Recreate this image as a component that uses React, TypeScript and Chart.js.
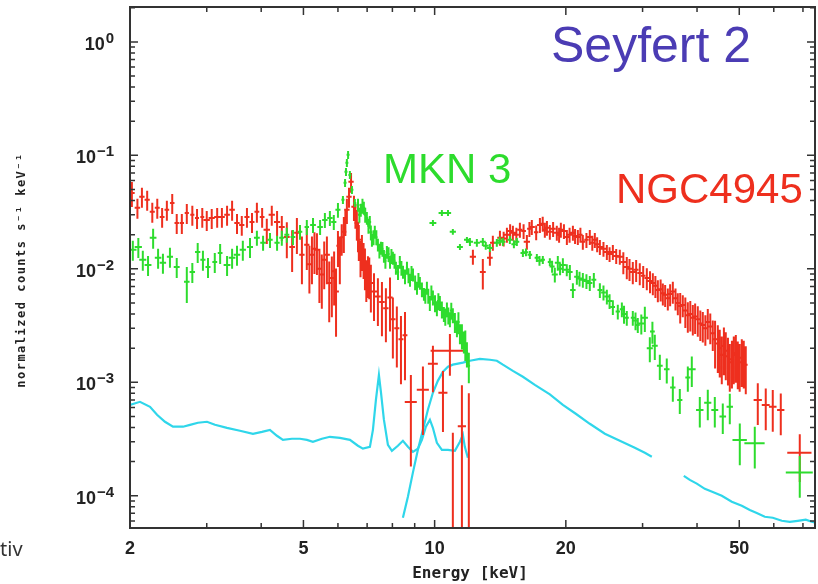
import React, { useEffect, useRef } from "react";
import { Chart, registerables } from "chart.js";

Chart.register(...registerables);

// Axis ranges: energy in keV, flux in counts s^-1 keV^-1
const X_MIN = 2.0;
const X_MAX = 74.6;
const Y_MIN = 5.2e-5;
const Y_MAX = 2.03;

const xLabelTicks = [2, 5, 10, 20, 50];
const xMinorTicks = [3, 4, 6, 7, 8, 9, 30, 40, 60, 70];
const yLabelExponents = [-4, -3, -2, -1, 0];

// ---------- NGC4945 (red) ----------
const ngcSoftE = [
  2.02, 2.08, 2.13, 2.19, 2.25, 2.31, 2.37, 2.43, 2.5, 2.56,
  2.63, 2.7, 2.78, 2.85, 2.93, 3.0, 3.08, 3.17, 3.25, 3.34,
  3.43, 3.52, 3.61, 3.71, 3.81, 3.91, 4.02, 4.12, 4.23, 4.35,
  4.46, 4.58, 4.71, 4.83, 4.96, 5.09, 5.23, 5.37, 5.51, 5.66,
  5.81, 5.94, 6.06, 6.19, 6.29, 6.36, 6.43, 6.53, 6.63, 6.7,
  6.81, 6.92, 7.03, 7.14, 7.26, 7.41, 7.57, 7.73, 7.9, 8.02,
  8.19, 8.37, 8.55,
];
const ngcSoftF = [
  0.0467, 0.0345, 0.0431, 0.0406, 0.0318, 0.0345, 0.0287, 0.0331, 0.0381, 0.0254,
  0.0254, 0.0311, 0.0299, 0.0281, 0.0287, 0.027, 0.0281, 0.0287, 0.0287, 0.0299,
  0.0331, 0.0254, 0.0244, 0.0287, 0.0259, 0.0318, 0.0287, 0.0221, 0.0299, 0.0259,
  0.0234, 0.0191, 0.0156, 0.0208, 0.0133, 0.0163, 0.0133, 0.0147, 0.0089, 0.0133,
  0.0083, 0.0063, 0.0133, 0.0212, 0.0331, 0.0431, 0.0584, 0.0352, 0.0254, 0.018,
  0.0147, 0.0108, 0.0092, 0.0075, 0.0063, 0.0057, 0.0051, 0.0045, 0.0056, 0.0036,
  0.003, 0.0024, 0.0026,
];
const ngcSoftErr = [
  0.25, 0.2, 0.2, 0.2, 0.2, 0.2, 0.2, 0.2, 0.2, 0.2,
  0.2, 0.2, 0.2, 0.2, 0.2, 0.2, 0.2, 0.2, 0.2, 0.2,
  0.2, 0.2, 0.2, 0.2, 0.2, 0.2, 0.2, 0.25, 0.2, 0.25,
  0.25, 0.35, 0.4, 0.35, 0.45, 0.4, 0.45, 0.4, 0.5, 0.45,
  0.55, 0.6, 0.45, 0.35, 0.25, 0.2, 0.2, 0.25, 0.3, 0.35,
  0.35, 0.4, 0.4, 0.45, 0.45, 0.45, 0.5, 0.5, 0.5, 0.55,
  0.55, 0.6, 0.6,
];
const ngcSoftHalfW = [
  0.03, 0.03, 0.03, 0.03, 0.03, 0.03, 0.03, 0.03, 0.03, 0.03,
  0.03, 0.03, 0.03, 0.03, 0.03, 0.05, 0.05, 0.05, 0.05, 0.05,
  0.05, 0.05, 0.05, 0.05, 0.05, 0.05, 0.05, 0.07, 0.07, 0.07,
  0.07, 0.07, 0.07, 0.07, 0.07, 0.07, 0.07, 0.07, 0.07, 0.09,
  0.09, 0.09, 0.09, 0.09, 0.09, 0.09, 0.09, 0.09, 0.09, 0.09,
  0.11, 0.11, 0.11, 0.11, 0.11, 0.11, 0.11, 0.11, 0.11, 0.11,
  0.11, 0.11, 0.11,
];

// NGC4945, additional finer bins round the iron line
const ngcLineE = [5.16, 5.3, 5.44, 5.58, 5.73, 5.88, 6.0, 6.12, 6.24, 6.58, 6.67, 6.76, 6.87, 6.97, 7.08];
const ngcLineF = [0.011, 0.015, 0.01, 0.012, 0.0075, 0.0095, 0.016, 0.019, 0.026, 0.03, 0.02, 0.013, 0.0125, 0.0085, 0.009];
const ngcLineErr = [0.45, 0.4, 0.5, 0.45, 0.55, 0.5, 0.35, 0.3, 0.25, 0.25, 0.3, 0.35, 0.35, 0.4, 0.4];
const ngcLineHalfW = [0.07, 0.07, 0.07, 0.07, 0.07, 0.07, 0.05, 0.05, 0.05, 0.05, 0.05, 0.06, 0.06, 0.06, 0.06];

const ngcIronE = [8.82, 9.4, 9.91, 10.45, 10.84, 11.01, 11.55, 11.98];
const ngcIronF = [6.7e-4, 8.6e-4, 1.46e-3, 8.1e-4, 1.9e-3, 5.0e-5, 4.1e-4, 4.0e-5];
const ngcIronErr = [0.73, 0.6, 0.44, 0.55, 0.4, 6.2, 1.3, 19];
const ngcIronHalfW = [0.28, 0.3, 0.26, 0.25, 1.05, 0.2, 0.25, 0.2];

const ngcHardE = [
  12.24, 12.9, 13.39, 13.6, 14.12, 14.65, 15.12, 15.69, 16.28, 16.71,
  17.44, 17.9, 18.38, 19.07, 19.48, 20.11, 20.76, 21.31, 21.88, 22.7,
  23.31, 23.94, 24.84, 25.64, 26.6, 27.6, 28.49, 29.56, 30.68, 31.67,
  32.52, 33.39, 34.28, 35.2, 36.14, 37.1, 38.1, 39.12, 40.16, 41.24,
  42.34, 43.47, 44.64, 45.59, 46.56, 47.56, 48.57, 49.61, 50.67, 51.75,
  55.14, 57.51, 59.68, 62.26, 68.83,
];
const ngcHardF = [
  0.0128, 0.0094, 0.0125, 0.017, 0.0188, 0.02, 0.0208, 0.0221, 0.0173, 0.0234,
  0.0244, 0.0221, 0.0212, 0.0208, 0.0221, 0.0191, 0.0208, 0.0191, 0.0173, 0.0191,
  0.018, 0.0156, 0.0141, 0.0141, 0.0128, 0.0104, 0.0094, 0.0092, 0.0083, 0.0075,
  0.0065, 0.0061, 0.0055, 0.0063, 0.005, 0.0048, 0.0039, 0.0037, 0.0036, 0.0032,
  0.0034, 0.0027, 0.0022, 0.00175, 0.0019, 0.0015, 0.00175, 0.00158, 0.00165, 0.00143,
  0.0007, 0.00063, 0.00061, 0.00057, 0.00024,
];
const ngcHardErr = [
  0.15, 0.3, 0.15, 0.15, 0.15, 0.15, 0.15, 0.15, 0.15, 0.15,
  0.15, 0.15, 0.15, 0.15, 0.15, 0.15, 0.15, 0.15, 0.15, 0.15,
  0.15, 0.15, 0.15, 0.15, 0.15, 0.22, 0.22, 0.22, 0.22, 0.22,
  0.22, 0.22, 0.22, 0.22, 0.22, 0.22, 0.3, 0.3, 0.3, 0.3,
  0.3, 0.3, 0.45, 0.45, 0.45, 0.45, 0.45, 0.45, 0.45, 0.45,
  0.4, 0.4, 0.4, 0.4, 0.45,
];
const ngcHardHalfW = [
  0.2, 0.2, 0.2, 0.2, 0.2, 0.2, 0.2, 0.2, 0.27, 0.27,
  0.27, 0.27, 0.27, 0.27, 0.27, 0.27, 0.27, 0.27, 0.27, 0.37,
  0.37, 0.37, 0.37, 0.37, 0.37, 0.37, 0.37, 0.37, 0.37, 0.45,
  0.45, 0.45, 0.45, 0.45, 0.45, 0.45, 0.45, 0.45, 0.45, 0.45,
  0.45, 0.45, 0.5, 0.5, 0.5, 0.5, 0.5, 0.5, 0.5, 0.5,
  1.2, 1.2, 1.2, 1.2, 4.4,
];

// NGC4945, interleaved hard-band bins
const ngcHard2E = [
  14.4, 14.9, 15.4, 16.0, 16.5, 17.1, 17.7, 18.1, 18.7, 19.3,
  19.8, 20.4, 21.0, 21.6, 22.3, 23.0, 23.6, 24.4, 25.2, 26.1,
  27.1, 28.0, 29.0, 30.1, 31.2, 32.1, 33.0, 33.8, 34.7, 35.7,
  36.6, 37.6, 38.6, 39.6, 40.7, 41.8, 42.9, 44.0, 45.1, 46.1,
  47.1, 48.1, 49.1, 50.1, 51.2,
];
const ngcHard2F = [
  0.0185, 0.0215, 0.02, 0.0215, 0.0225, 0.021, 0.025, 0.023, 0.0225, 0.02,
  0.0215, 0.02, 0.0195, 0.02, 0.018, 0.017, 0.0165, 0.015, 0.0135, 0.013,
  0.0115, 0.01, 0.0098, 0.0087, 0.0078, 0.0071, 0.0066, 0.0059, 0.006, 0.0055,
  0.0047, 0.0043, 0.004, 0.0038, 0.0033, 0.003, 0.0031, 0.0024, 0.002, 0.0021,
  0.0017, 0.0016, 0.0018, 0.0015, 0.0016,
];
const ngcHard2Err = [
  0.15, 0.15, 0.15, 0.15, 0.15, 0.15, 0.15, 0.15, 0.15, 0.15,
  0.15, 0.15, 0.15, 0.15, 0.15, 0.15, 0.15, 0.15, 0.15, 0.15,
  0.22, 0.22, 0.22, 0.22, 0.22, 0.22, 0.22, 0.22, 0.22, 0.22,
  0.3, 0.3, 0.3, 0.3, 0.3, 0.3, 0.3, 0.45, 0.45, 0.45,
  0.45, 0.45, 0.45, 0.45, 0.45,
];
const ngcHard2HalfW = [
  0.2, 0.2, 0.2, 0.2, 0.2, 0.2, 0.25, 0.25, 0.25, 0.25,
  0.25, 0.25, 0.25, 0.25, 0.25, 0.35, 0.35, 0.35, 0.35, 0.35,
  0.35, 0.35, 0.35, 0.35, 0.4, 0.4, 0.4, 0.4, 0.4, 0.4,
  0.4, 0.4, 0.4, 0.4, 0.4, 0.4, 0.4, 0.45, 0.45, 0.45,
  0.45, 0.45, 0.45, 0.45, 0.45,
];

// ---------- MKN 3 (green) ----------
const mknSoftE = [
  2.03, 2.09, 2.14, 2.2, 2.26, 2.32, 2.38, 2.47, 2.56, 2.7,
  2.78, 2.86, 2.94, 3.02, 3.13, 3.22, 3.34, 3.43, 3.52, 3.63,
  3.77, 3.91, 4.04, 4.19, 4.35, 4.46, 4.58, 4.73, 4.91, 5.09,
  5.26, 5.46, 5.6, 5.75, 5.87, 6.0, 6.16, 6.23, 6.26, 6.29,
  6.33, 6.39, 6.46, 6.56,
];
const mknSoftF = [
  0.0147, 0.0156, 0.012, 0.0108, 0.0188, 0.0125, 0.0113, 0.0128, 0.0104, 0.0077,
  0.0094, 0.0141, 0.012, 0.0104, 0.0115, 0.0138, 0.0108, 0.0125, 0.0133, 0.0147,
  0.0156, 0.0188, 0.017, 0.018, 0.017, 0.0188, 0.02, 0.0191, 0.0212, 0.0234,
  0.0244, 0.0234, 0.027, 0.0281, 0.0259, 0.0331, 0.0406, 0.0573, 0.0716, 0.0859,
  0.101, 0.0673, 0.0497, 0.0381,
];
const mknSoftErr = [
  0.2, 0.2, 0.2, 0.2, 0.2, 0.2, 0.2, 0.2, 0.2, 0.35,
  0.2, 0.2, 0.2, 0.2, 0.2, 0.2, 0.2, 0.2, 0.2, 0.2,
  0.2, 0.15, 0.15, 0.15, 0.15, 0.15, 0.15, 0.15, 0.15, 0.15,
  0.15, 0.15, 0.15, 0.15, 0.15, 0.15, 0.08, 0.08, 0.08, 0.08,
  0.08, 0.08, 0.08, 0.08,
];
const mknSoftHalfW = [
  0.04, 0.04, 0.04, 0.04, 0.04, 0.04, 0.04, 0.04, 0.04, 0.04,
  0.04, 0.04, 0.04, 0.04, 0.04, 0.04, 0.06, 0.06, 0.06, 0.06,
  0.06, 0.06, 0.06, 0.06, 0.06, 0.06, 0.06, 0.06, 0.06, 0.06,
  0.08, 0.08, 0.08, 0.08, 0.08, 0.08, 0.05, 0.05, 0.05, 0.05,
  0.05, 0.05, 0.05, 0.05,
];

const mknIronE = [
  6.67, 6.77, 6.88, 6.99, 7.1, 7.18, 7.29, 7.41, 7.53, 7.65,
  7.77, 7.9, 8.02, 8.15, 8.32, 8.46, 8.64, 8.78, 8.92, 9.11,
  9.25, 9.45, 9.6, 9.75, 9.91, 10.12, 10.28, 10.5, 10.67, 10.84,
  11.01, 11.25, 11.43, 11.67, 11.86, 11.98,
];
const mknIronF = [
  0.0366, 0.0331, 0.0345, 0.0281, 0.0259, 0.018, 0.0212, 0.0163, 0.0153, 0.013,
  0.0141, 0.0115, 0.0125, 0.0102, 0.0115, 0.0094, 0.0102, 0.008, 0.0089, 0.0068,
  0.0075, 0.006, 0.0068, 0.005, 0.0056, 0.0045, 0.005, 0.004, 0.0044, 0.0036,
  0.0039, 0.003, 0.0027, 0.0023, 0.0018, 0.0014,
];
const mknIronErr = [
  0.13, 0.13, 0.13, 0.13, 0.13, 0.13, 0.13, 0.13, 0.13, 0.13,
  0.13, 0.13, 0.13, 0.13, 0.13, 0.13, 0.13, 0.13, 0.13, 0.13,
  0.13, 0.13, 0.13, 0.15, 0.15, 0.15, 0.15, 0.15, 0.15, 0.15,
  0.15, 0.17, 0.2, 0.22, 0.25, 0.3,
];
const mknIronHalfW = [
  0.05, 0.05, 0.05, 0.05, 0.05, 0.05, 0.05, 0.05, 0.05, 0.05,
  0.05, 0.05, 0.05, 0.05, 0.05, 0.05, 0.05, 0.05, 0.05, 0.05,
  0.05, 0.05, 0.05, 0.05, 0.08, 0.08, 0.08, 0.08, 0.08, 0.08,
  0.08, 0.08, 0.08, 0.08, 0.08, 0.08,
];

// MKN 3, interleaved bins across 6.7-12 keV
const mknIron2E = [
  6.72, 6.83, 6.93, 7.05, 7.14, 7.24, 7.35, 7.47, 7.59, 7.71,
  7.84, 7.96, 8.09, 8.24, 8.39, 8.55, 8.71, 8.85, 9.02, 9.18,
  9.35, 9.52, 9.67, 9.83, 10.02, 10.2, 10.39, 10.58, 10.75, 10.92,
  11.13, 11.34, 11.55, 11.76,
];
const mknIron2F = [
  0.03, 0.036, 0.03, 0.024, 0.021, 0.019, 0.019, 0.0145, 0.015, 0.0118,
  0.0135, 0.013, 0.0118, 0.0094, 0.0102, 0.0086, 0.0088, 0.0092, 0.0076, 0.008,
  0.0066, 0.0058, 0.0058, 0.0062, 0.005, 0.0052, 0.0044, 0.0038, 0.0039, 0.0043,
  0.0034, 0.0034, 0.0026, 0.0022,
];
const mknIron2Err = [
  0.15, 0.15, 0.15, 0.15, 0.15, 0.15, 0.15, 0.15, 0.15, 0.15,
  0.15, 0.15, 0.15, 0.15, 0.15, 0.15, 0.15, 0.15, 0.15, 0.15,
  0.15, 0.15, 0.15, 0.15, 0.17, 0.17, 0.17, 0.17, 0.17, 0.17,
  0.2, 0.22, 0.25, 0.3,
];
const mknIron2HalfW = [
  0.05, 0.05, 0.05, 0.05, 0.05, 0.05, 0.05, 0.05, 0.05, 0.05,
  0.05, 0.05, 0.05, 0.05, 0.05, 0.05, 0.05, 0.05, 0.05, 0.05,
  0.05, 0.05, 0.05, 0.05, 0.08, 0.08, 0.08, 0.08, 0.08, 0.08,
  0.08, 0.08, 0.08, 0.08,
];

const mknHumpE = [9.91, 10.39, 10.73, 11.01, 11.43, 11.86];
const mknHumpF = [0.0254, 0.0311, 0.0311, 0.0212, 0.0156, 0.018];
const mknHumpErr = [0.06, 0.06, 0.06, 0.06, 0.06, 0.06];
const mknHumpHalfW = [0.18, 0.18, 0.18, 0.18, 0.18, 0.18];

const mknHardE = [
  12.05, 12.5, 12.9, 13.39, 13.89, 14.34, 14.88, 15.44, 15.94, 16.54,
  17.16, 17.71, 18.38, 18.87, 19.17, 19.69, 20.43, 20.76, 21.2, 21.88,
  22.7, 23.19, 23.94, 24.84, 25.64, 26.32, 26.89, 27.6, 28.49, 29.25,
  30.36, 31.17, 32.0, 32.86, 34.09, 35.2, 36.52, 38.1, 38.91, 40.59,
  42.34, 43.94, 45.83, 47.56, 50.14, 54.27, 68.83,
];
const mknHardF = [
  0.0173, 0.017, 0.0173, 0.0153, 0.017, 0.0173, 0.018, 0.0173, 0.0138, 0.0133,
  0.0125, 0.012, 0.0115, 0.0089, 0.0113, 0.0108, 0.0094, 0.0065, 0.0085, 0.008,
  0.0075, 0.008, 0.0065, 0.0057, 0.0046, 0.0042, 0.0044, 0.0037, 0.0037, 0.0032,
  0.0037, 0.002, 0.0021, 0.0014, 0.0013, 0.0009, 0.0007, 0.0011, 0.0013, 0.00057,
  0.00066, 0.00057, 0.0005, 0.00061, 0.00031, 0.00029, 0.00016,
];
const mknHardErr = [
  0.08, 0.08, 0.08, 0.08, 0.08, 0.08, 0.08, 0.08, 0.08, 0.08,
  0.08, 0.08, 0.08, 0.15, 0.15, 0.15, 0.15, 0.15, 0.15, 0.15,
  0.15, 0.15, 0.15, 0.15, 0.15, 0.15, 0.15, 0.15, 0.15, 0.15,
  0.25, 0.25, 0.25, 0.25, 0.25, 0.25, 0.25, 0.25, 0.3, 0.3,
  0.3, 0.3, 0.3, 0.3, 0.4, 0.4, 0.4,
];
const mknHardHalfW = [
  0.2, 0.2, 0.2, 0.2, 0.2, 0.2, 0.2, 0.2, 0.2, 0.2,
  0.2, 0.2, 0.2, 0.3, 0.3, 0.3, 0.3, 0.3, 0.3, 0.3,
  0.3, 0.3, 0.3, 0.3, 0.3, 0.3, 0.3, 0.3, 0.3, 0.3,
  0.5, 0.5, 0.5, 0.5, 0.5, 0.5, 0.5, 0.5, 0.8, 0.8,
  0.8, 0.8, 0.8, 0.8, 1.9, 2.9, 4.9,
];

// MKN 3, interleaved hard-band bins
const mknHard2E = [13.1, 14.1, 15.2, 16.2, 17.4, 18.6, 19.4, 20.1, 21.5, 22.3, 24.4, 25.2, 27.2, 28.9, 29.8, 31.6];
const mknHard2F = [0.016, 0.0178, 0.0165, 0.014, 0.0118, 0.0105, 0.01, 0.0098, 0.0082, 0.0078, 0.0062, 0.0052, 0.004, 0.0035, 0.0033, 0.0028];
const mknHard2Err = [0.08, 0.08, 0.08, 0.08, 0.1, 0.12, 0.12, 0.12, 0.15, 0.15, 0.15, 0.15, 0.18, 0.18, 0.2, 0.22];
const mknHard2HalfW = [0.2, 0.2, 0.2, 0.2, 0.25, 0.25, 0.25, 0.3, 0.3, 0.3, 0.3, 0.35, 0.35, 0.35, 0.4, 0.4];

// ---------- Background model (cyan) ----------
const bgSoftE = [
  2.0, 2.108, 2.223, 2.307, 2.406, 2.51, 2.646, 2.746, 2.864, 3.004,
  3.133, 3.338, 3.575, 3.83, 4.016, 4.189, 4.347, 4.487, 4.705, 4.909,
  5.093, 5.257, 5.513, 5.751, 6.063, 6.392, 6.668, 6.846, 7.104, 7.218,
  7.333, 7.45, 7.529, 7.649, 7.813, 7.979, 8.236, 8.457, 8.683, 8.915,
  9.154, 9.35, 9.549, 9.753, 9.908, 10.12, 10.39, 10.73, 11.13, 11.43,
  11.61, 11.73, 11.92,
];
const bgSoftF = [
  6.33e-4, 6.73e-4, 6.08e-4, 5.18e-4, 4.49e-4, 4.06e-4, 4.06e-4, 4.22e-4, 4.4e-4, 4.49e-4,
  4.22e-4, 3.97e-4, 3.74e-4, 3.52e-4, 3.66e-4, 3.81e-4, 3.38e-4, 3.11e-4, 3.18e-4, 3.18e-4,
  3.11e-4, 2.99e-4, 3.18e-4, 3.31e-4, 3.24e-4, 3.11e-4, 2.76e-4, 2.6e-4, 2.7e-4, 3.81e-4,
  7.01e-4, 1.16e-3, 8.24e-4, 4.68e-4, 2.81e-4, 2.49e-4, 2.76e-4, 3.05e-4, 2.7e-4, 2.44e-4,
  2.6e-4, 3.11e-4, 4.06e-4, 4.68e-4, 3.97e-4, 2.93e-4, 2.54e-4, 2.54e-4, 2.49e-4, 2.99e-4,
  3.45e-4, 2.7e-4, 2.16e-4,
];
const bgHardE = [
  8.457, 8.683, 8.915, 9.154, 9.399, 9.651, 9.908, 10.17, 10.45, 10.73,
  11.01, 11.31, 11.61, 12.05, 12.7, 13.39, 13.89, 14.34, 15.12, 15.94,
  16.98, 18.38, 19.69, 21.08, 22.7, 24.58, 26.6, 28.79, 30.36, 31.5,
];
const bgHardF = [
  6.4e-5, 9.8e-5, 1.6e-4, 2.54e-4, 3.81e-4, 5.73e-4, 8.08e-4, 1.03e-3, 1.24e-3, 1.37e-3,
  1.43e-3, 1.46e-3, 1.49e-3, 1.55e-3, 1.61e-3, 1.58e-3, 1.55e-3, 1.43e-3, 1.26e-3, 1.12e-3,
  9.5e-4, 7.82e-4, 6.33e-4, 5.28e-4, 4.31e-4, 3.52e-4, 3.05e-4, 2.65e-4, 2.39e-4, 2.21e-4,
];
const bgTailE = [
  37.3, 38.5, 39.95, 41.68, 43.47, 45.59, 48.06, 50.67, 52.86, 54.84,
  57.21, 59.68, 62.59, 65.29, 68.1, 71.04, 73.33, 74.9,
];
const bgTailF = [
  1.5e-4, 1.38e-4, 1.28e-4, 1.15e-4, 1.08e-4, 1.0e-4, 8.86e-5, 8.16e-5, 7.5e-5, 7.06e-5,
  6.53e-5, 6.4e-5, 6.02e-5, 5.9e-5, 6.02e-5, 6.15e-5, 5.9e-5, 5.77e-5,
];

const RED = "#ee2f1e";
const GREEN = "#2ddc2d";
const CYAN = "#2fd6ea";
const AXIS = "#333333";
const SANS = "'Liberation Sans', Arial, Helvetica, sans-serif";

type ErrPoint = { x: number; y: number; xMin: number; xMax: number; yMin: number; yMax: number };

function withErrors(E: number[], F: number[], rel: number[], halfW: number[]): ErrPoint[] {
  return E.map((e, i) => ({
    x: e,
    y: F[i],
    xMin: e - halfW[i],
    xMax: e + halfW[i],
    yMin: F[i] * (1 - rel[i]),
    yMax: F[i] * (1 + rel[i]),
  }));
}

function curve(E: number[], F: number[]) {
  return E.map((e, i) => ({ x: e, y: F[i] }));
}

// Draws a "+" per bin: energy range horizontally, 1-sigma range vertically
const errorBarPlugin = {
  id: "errorBars",
  afterDatasetsDraw(chart: any) {
    const { ctx, chartArea: a, scales } = chart;
    const xs = scales.x;
    const ys = scales.y;
    ctx.save();
    ctx.beginPath();
    ctx.rect(a.left, a.top, a.right - a.left, a.bottom - a.top);
    ctx.clip();
    chart.data.datasets.forEach((ds: any) => {
      if (!ds.errorBars) return;
      ctx.strokeStyle = ds.borderColor;
      ctx.lineWidth = 2;
      ctx.beginPath();
      ds.data.forEach((p: ErrPoint) => {
        const px = xs.getPixelForValue(p.x);
        const py = ys.getPixelForValue(p.y);
        const top = ys.getPixelForValue(p.yMax);
        const bot = p.yMin > 0 ? ys.getPixelForValue(p.yMin) : a.bottom + 5;
        ctx.moveTo(px, top);
        ctx.lineTo(px, bot);
        ctx.moveTo(xs.getPixelForValue(p.xMin), py);
        ctx.lineTo(xs.getPixelForValue(p.xMax), py);
      });
      ctx.stroke();
    });
    ctx.restore();
  },
};

// Frame with inward ticks on all four sides, tick labels, titles and source names
const framePlugin = {
  id: "frameAndText",
  afterDraw(chart: any) {
    const { ctx, chartArea: a, scales } = chart;
    const xs = scales.x;
    const ys = scales.y;
    ctx.save();

    ctx.strokeStyle = AXIS;
    ctx.lineWidth = 1.5;
    ctx.beginPath();
    const tickX = (v: number, len: number) => {
      const px = xs.getPixelForValue(v);
      ctx.moveTo(px, a.bottom);
      ctx.lineTo(px, a.bottom - len);
      ctx.moveTo(px, a.top);
      ctx.lineTo(px, a.top + len);
    };
    xLabelTicks.forEach((v) => tickX(v, 8));
    xMinorTicks.forEach((v) => tickX(v, 5));
    for (let d = -5; d <= 0; d++) {
      for (let m = 1; m < 10; m++) {
        const v = m * Math.pow(10, d);
        if (v < Y_MIN || v > Y_MAX) continue;
        const py = ys.getPixelForValue(v);
        const len = m === 1 ? 8 : 5;
        ctx.moveTo(a.left, py);
        ctx.lineTo(a.left + len, py);
        ctx.moveTo(a.right, py);
        ctx.lineTo(a.right - len, py);
      }
    }
    ctx.stroke();

    ctx.lineWidth = 2;
    ctx.strokeRect(a.left, a.top, a.right - a.left, a.bottom - a.top);

    // y tick labels: 10 with a raised exponent
    ctx.fillStyle = "#222";
    ctx.textBaseline = "alphabetic";
    yLabelExponents.forEach((d) => {
      const py = ys.getPixelForValue(Math.pow(10, d));
      const exp = d === 0 ? "0" : "\u2212" + String(-d);
      const right = 114;
      ctx.font = `bold 15px ${SANS}`;
      const ew = ctx.measureText(exp).width;
      ctx.textAlign = "left";
      ctx.fillText(exp, right - ew, py + 1);
      ctx.font = `bold 18px ${SANS}`;
      ctx.textAlign = "right";
      ctx.fillText("10", right - ew - 1, py + 8);
    });

    // x tick labels
    ctx.font = `bold 18px ${SANS}`;
    ctx.textAlign = "center";
    xLabelTicks.forEach((v) => {
      ctx.fillText(String(v), xs.getPixelForValue(v), 554);
    });

    // axis titles
    ctx.font = "bold 16px 'DejaVu Sans Mono', monospace";
    ctx.fillText("Energy [keV]", 470, 578);

    ctx.save();
    ctx.translate(25, 270);
    ctx.rotate(-Math.PI / 2);
    ctx.font = "bold 12px 'DejaVu Sans Mono', monospace";
    (ctx as any).letterSpacing = "1.5px";
    ctx.textAlign = "center";
    ctx.fillText("normalized counts s\u207B\u00B9 keV\u207B\u00B9", 0, 0);
    ctx.restore();

    ctx.textAlign = "left";
    ctx.fillStyle = "#333";
    ctx.font = "20px 'Noto Sans', sans-serif";
    ctx.fillText("tiv", 0, 556);

    // source names
    ctx.font = `50px ${SANS}`;
    ctx.fillStyle = "#4b3cb4";
    ctx.fillText("Seyfert 2", 551, 62);
    ctx.font = `42px ${SANS}`;
    ctx.fillStyle = GREEN;
    ctx.fillText("MKN 3", 383, 183);
    ctx.fillStyle = RED;
    ctx.fillText("NGC4945", 616, 203);

    ctx.restore();
  },
};

export default function App() {
  const canvasRef = useRef<HTMLCanvasElement | null>(null);

  useEffect(() => {
    if (!canvasRef.current) return;
    const ngcData = [
      ...withErrors(ngcSoftE, ngcSoftF, ngcSoftErr, ngcSoftHalfW),
      ...withErrors(ngcLineE, ngcLineF, ngcLineErr, ngcLineHalfW),
      ...withErrors(ngcIronE, ngcIronF, ngcIronErr, ngcIronHalfW),
      ...withErrors(ngcHardE, ngcHardF, ngcHardErr, ngcHardHalfW),
      ...withErrors(ngcHard2E, ngcHard2F, ngcHard2Err, ngcHard2HalfW),
    ];
    const mknData = [
      ...withErrors(mknSoftE, mknSoftF, mknSoftErr, mknSoftHalfW),
      ...withErrors(mknIronE, mknIronF, mknIronErr, mknIronHalfW),
      ...withErrors(mknIron2E, mknIron2F, mknIron2Err, mknIron2HalfW),
      ...withErrors(mknHumpE, mknHumpF, mknHumpErr, mknHumpHalfW),
      ...withErrors(mknHardE, mknHardF, mknHardErr, mknHardHalfW),
      ...withErrors(mknHard2E, mknHard2F, mknHard2Err, mknHard2HalfW),
    ];
    const lineStyle = {
      showLine: true,
      pointRadius: 0,
      borderColor: CYAN,
      borderWidth: 2.2,
      tension: 0,
      fill: false,
    };

    const chart = new Chart(canvasRef.current, {
      type: "scatter",
      data: {
        datasets: [
          { label: "bg soft", data: curve(bgSoftE, bgSoftF), ...lineStyle } as any,
          { label: "bg hard", data: curve(bgHardE, bgHardF), ...lineStyle } as any,
          { label: "bg tail", data: curve(bgTailE, bgTailF), ...lineStyle } as any,
          { label: "NGC4945", data: ngcData, pointRadius: 0, borderColor: RED, errorBars: true } as any,
          { label: "MKN 3", data: mknData, pointRadius: 0, borderColor: GREEN, errorBars: true } as any,
        ],
      },
      options: {
        animation: false,
        responsive: false,
        maintainAspectRatio: false,
        layout: { padding: { left: 130, top: 7, right: 3, bottom: 56 } },
        plugins: { legend: { display: false }, tooltip: { enabled: false } },
        events: [],
        scales: {
          x: { type: "logarithmic", min: X_MIN, max: X_MAX, display: false },
          y: { type: "logarithmic", min: Y_MIN, max: Y_MAX, display: false },
        },
      },
      plugins: [errorBarPlugin, framePlugin],
    });
    return () => chart.destroy();
  }, []);

  return (
    <div style={{ position: "fixed", left: 0, top: 0, width: 818, height: 584, background: "#fff" }}>
      <canvas ref={canvasRef} width={818} height={584} style={{ display: "block" }} />
    </div>
  );
}
